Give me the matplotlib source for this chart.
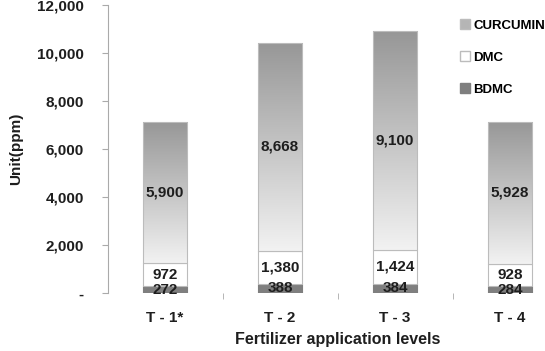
import numpy as np
import matplotlib
matplotlib.use('Agg')
from matplotlib import pyplot as plt
from matplotlib.patches import Rectangle, Patch

plt.rcParams['font.family'] = ['Liberation Sans', 'DejaVu Sans']
plt.rcParams['font.weight'] = 'bold'

categories = ['T - 1*', 'T - 2', 'T - 3', 'T - 4']
bdmc = [272, 388, 384, 284]
dmc = [972, 1380, 1424, 928]
curcumin = [5900, 8668, 9100, 5928]
y_ticks = [0, 2000, 4000, 6000, 8000, 10000, 12000]
y_tick_labels = ['-', '2,000', '4,000', '6,000', '8,000', '10,000', '12,000']

fig = plt.figure(figsize=(5.45, 3.51), dpi=100)
ax = fig.add_axes([107.5 / 545, 58 / 351, 460 / 545, 288 / 351])

x = np.arange(len(categories))
width = 0.39
edge = '#bcbcbc'
txt = '#1e1e1e'

# BDMC and DMC plain bars
ax.bar(x, bdmc, width, color='#7f7f7f', edgecolor='#7f7f7f', linewidth=0.8, zorder=2)
ax.bar(x, dmc, width, bottom=bdmc, color='white', edgecolor=edge, linewidth=0.8, zorder=2)

# CURCUMIN bars with vertical gradient
grad = np.linspace(0, 1, 256).reshape(-1, 1)
cmap = matplotlib.colors.LinearSegmentedColormap.from_list('g', ['#f2f2f2', '#979797'])
bottoms = np.array(bdmc) + np.array(dmc)
for xi, b, h in zip(x, bottoms, curcumin):
    rect = Rectangle((xi - width / 2, b), width, h, facecolor='none',
                     edgecolor=edge, linewidth=0.8, zorder=3)
    ax.add_patch(rect)
    im = ax.imshow(grad, cmap=cmap, aspect='auto', origin='lower',
                   extent=(xi - width / 2, xi + width / 2, b, b + h), zorder=2)
    im.set_clip_path(rect)

# value labels
for xi, a, d, c in zip(x, bdmc, dmc, curcumin):
    ax.text(xi, a / 2, f'{a:,}', ha='center', va='center', fontsize=11,
            fontweight='bold', color=txt, zorder=4)
    ax.text(xi, a + d / 2, f'{d:,}', ha='center', va='center', fontsize=11,
            fontweight='bold', color=txt, zorder=4)
    ax.text(xi, a + d + c / 2, f'{c:,}', ha='center', va='center', fontsize=11,
            fontweight='bold', color=txt, zorder=4)

ax.set_xlim(-0.5, len(categories) - 0.5)
ax.set_ylim(0, 12000)

ax.set_yticks(y_ticks)
ax.set_yticklabels(y_tick_labels, fontsize=11, fontweight='bold', color=txt)
ax.tick_params(axis='y', length=4, color='#aaaaaa', pad=13)

ax.set_xticks(x)
ax.set_xticklabels(categories, fontsize=11, fontweight='bold', color=txt)
ax.tick_params(axis='x', which='major', length=0, pad=13)
ax.set_xticks(x[:-1] + 0.5, minor=True)
ax.tick_params(axis='x', which='minor', length=4, color='#aaaaaa')

for s in ['top', 'right', 'bottom']:
    ax.spines[s].set_visible(False)
ax.spines['left'].set_color('#aaaaaa')

ax.set_xlabel('Fertilizer application levels', fontsize=11.5, fontweight='bold',
              color=txt, labelpad=5)
ax.set_ylabel('Unit(ppm)', fontsize=11, fontweight='bold', color=txt, labelpad=10)

handles = [Patch(facecolor='#b5b5b5', edgecolor=edge),
           Patch(facecolor='white', edgecolor=edge),
           Patch(facecolor='#7f7f7f', edgecolor='#7f7f7f')]
fig.legend(handles, ['CURCUMIN', 'DMC', 'BDMC'], loc='upper left',
           bbox_to_anchor=(455 / 545, 1 - 14 / 351), frameon=False,
           prop={'size': 9.5, 'weight': 'bold'}, handlelength=0.7, handleheight=0.7,
           handletextpad=0.3, labelspacing=1.5, borderaxespad=0)

fig.savefig('out.png', dpi=100)
